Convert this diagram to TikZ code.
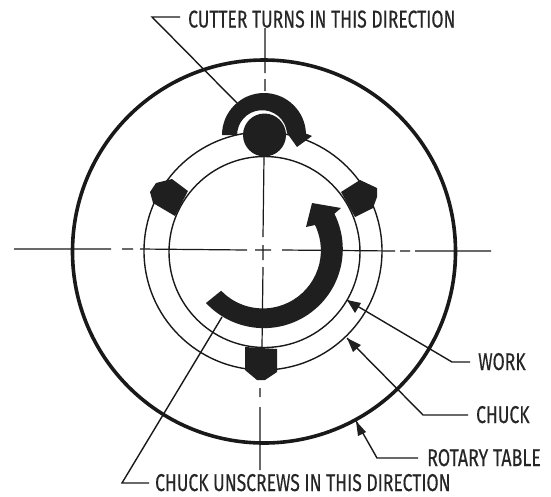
\documentclass[tikz,border=0pt]{standalone}
\usepackage{fontspec}
\setmainfont[FakeStretch=0.72,FakeBold=0.25]{Fira Sans}
\tikzset{
 thinline/.style={line width=1.2pt,black!90},
 leader/.style={line width=1.4pt,black!90},
 solidblack/.style={fill=black!88,draw=none},
 lbl/.style={inner sep=0pt,font=\fontsize{24.3}{26}\selectfont,text=black!85},
 tip/.style={solidblack}
}
\begin{document}
\begin{tikzpicture}[x=1pt,y=-1pt]
\useasboundingbox (0,0) rectangle (551,496);
\coordinate (c) at (263,250);
% centre lines
\draw[thinline] (14,249) -- (111,249) (122,249) -- (133,249) (140,249) -- (247,250) (255,250) -- (271,250) (282,250) -- (395,251) (400,251) -- (410,251) (415,251) -- (491,251);
\draw[thinline] (265,28) -- (265,73) (265,79) -- (265,91) (264,157) -- (263,237) (263,245) -- (263,260) (263,267) -- (262,347) (260,388) -- (260,397) (260,407) -- (260,470);
% circles
\node[circle,draw=black!90,line width=3.6pt,minimum size=383pt,inner sep=0pt] (table) at (264,251.5) {};
\node[circle,draw=black!90,line width=1.4pt,minimum size=238pt,inner sep=0pt] (chuck) at (263,251) {};
\node[circle,draw=black!90,line width=1.4pt,minimum size=191pt,inner sep=0pt] (work) at (264.5,252) {};
% jaws
\fill[solidblack] (172,179) -- (188,191) -- (175,216) -- (153,203) -- (150,192) -- (156,183) -- cycle;
\fill[solidblack] (360,180) -- (377,188) -- (377,197) -- (373,208) -- (355,217) -- (341,192) -- cycle;
\fill[solidblack] (245,347) -- (277,349) -- (277,372) -- (265,380) -- (257,380) -- (245,370) -- cycle;
% cutter
\node[circle,solidblack,minimum size=43pt,inner sep=0pt] (cutter) at (264.5,135) {};
\fill[solidblack] (222,135) arc[start angle=180,end angle=358,radius=42] -- (312,136) -- (297,147) -- (287,133) arc[start angle=-5,end angle=-180,radius=25] -- cycle;
% big arrow
\fill[solidblack] (206,303) arc[start angle=137,end angle=-26.6,radius=79] -- (341,208) -- (312,203) -- (306,227) -- (315,225) arc[start angle=-26,end angle=136,radius=58] -- cycle;
% leaders
\coordinate (a1) at (237,103); \coordinate (a2) at (152,17); \coordinate (a3) at (180,17);
\draw[leader] (a1) -- (a2) -- (a3);
\coordinate (b1) at (222,317); \coordinate (b2) at (122,483); \coordinate (b3) at (149,483);
\draw[leader] (b1) -- (b2) -- (b3);
\coordinate (w1) at (347,300); \coordinate (w2) at (452,362); \coordinate (w3) at (470,362);
\draw[leader] (w1) -- (w2) -- (w3);
\fill[tip] (347,300) -- (361,303) -- (355,313) -- cycle;
\coordinate (k1) at (347,338); \coordinate (k2) at (423,415); \coordinate (k3) at (468,415);
\draw[leader] (k1) -- (k2) -- (k3);
\fill[tip] (347,338) -- (361,345) -- (353,352) -- cycle;
\coordinate (r1) at (356,421); \coordinate (r2) at (377,458); \coordinate (r3) at (418,458);
\draw[leader] (r1) -- (r2) -- (r3);
\fill[tip] (356,421) -- (366,432) -- (358,436) -- cycle;
% labels
\node[lbl,anchor=base west] (t1) at (188,27.5) {CUTTER TURNS IN THIS DIRECTION};
\node[lbl,anchor=base west] (t2) at (478,370) {WORK};
\node[lbl,anchor=base west] (t3) at (476,423) {CHUCK};
\node[lbl,anchor=base west,xscale=1.02] (t4) at (427,466) {ROTARY TABLE};
\node[lbl,anchor=base west] (t5) at (155,491) {CHUCK UNSCREWS IN THIS DIRECTION};
\end{tikzpicture}
\end{document}
